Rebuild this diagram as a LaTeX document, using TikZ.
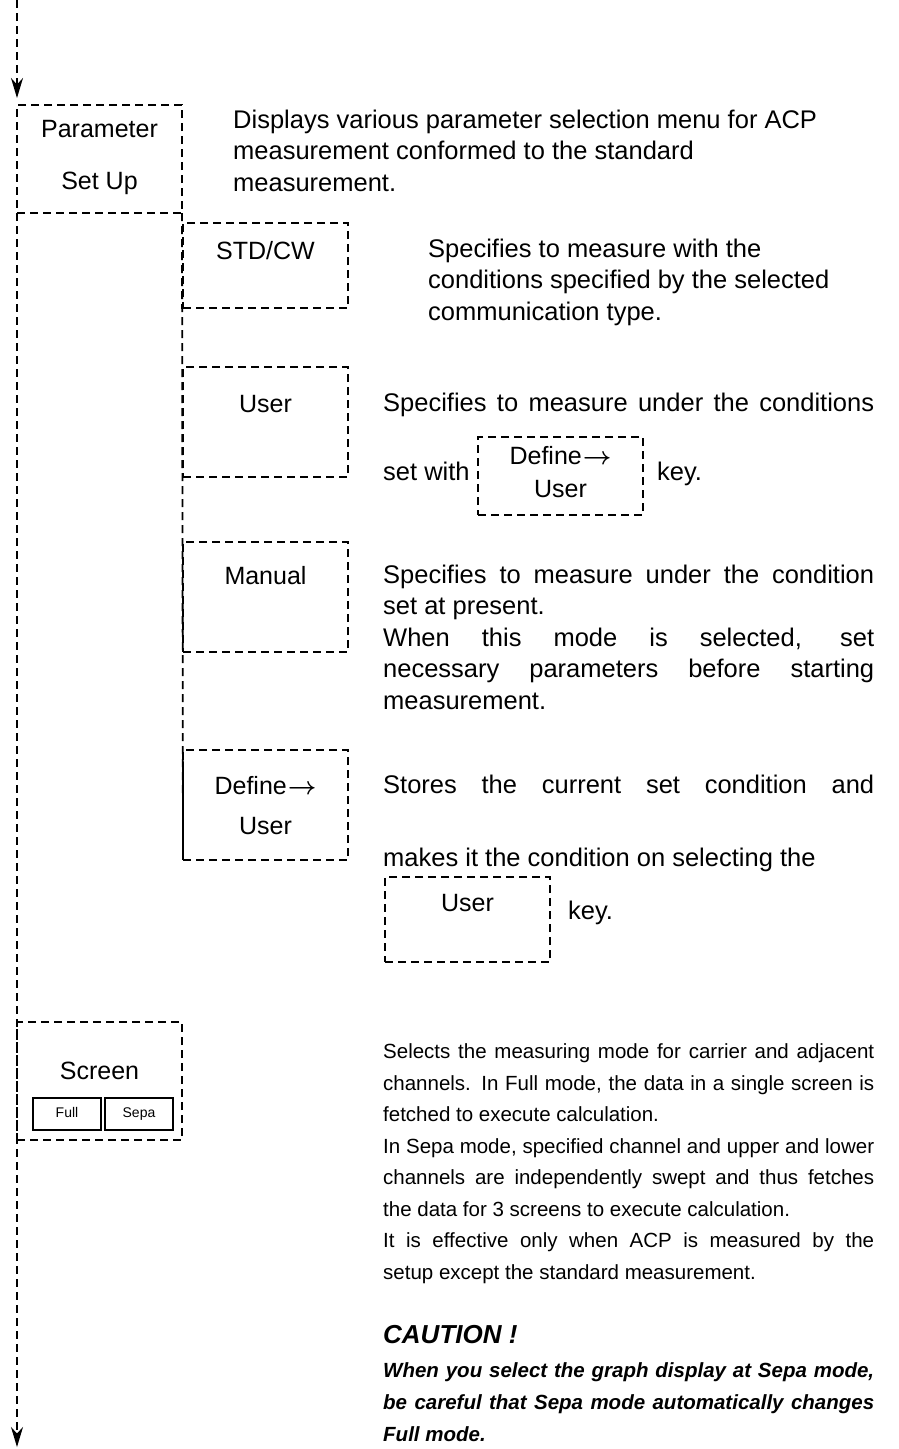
\documentclass[tikz,border=0pt]{standalone}
\usepackage{fontspec}
\setmainfont{Liberation Sans}
\usetikzlibrary{positioning,arrows.meta}
\tikzset{dl/.style={line width=1.8pt,dash pattern=on 8pt off 5pt},
  kb/.style={dl,draw,anchor=north west,minimum width=165pt,inner sep=0pt,outer sep=0pt},
  lb/.style={anchor=base,inner sep=0pt,font=\fontsize{25}{30}\selectfont},
  ds/.style={anchor=base west,inner sep=0pt,font=\fontsize{25.5}{31.5}\selectfont},
  dsm/.style={ds,font=\fontsize{20.5}{31.5}\selectfont},
  bt/.style={draw,line width=1.6pt,anchor=north west,minimum width=68pt,minimum height=32pt,inner sep=0pt,outer sep=0pt,
    text height=10pt,text depth=3pt,font=\fontsize{14}{14}\selectfont},
  ar/.style={dl,-{Stealth[length=20pt,width=12pt]}}}
\newcommand\sprd[1]{\hbox to \hsize{#1}}
\newcommand\lne[1]{\hbox{#1}}
\newcommand\blk[1]{\vtop{\hsize=491pt #1}}
\newcommand\dfn{Define\kern1pt$\boldsymbol{\rightarrow}$}
\usepackage{amsmath}
\begin{document}
\begin{tikzpicture}[x=1pt,y=-1pt]
\useasboundingbox (0,0) rectangle (898,1449);
\path (17,0) coordinate (top) (17,1447) coordinate (bot)
      (0,919) coordinate (kline);
\node[kb,minimum height=108pt] (param) at (17,105) {};
\node[kb,minimum height=85pt] (std) at (183,223) {};
\node[kb,minimum height=110pt] (user) at (183,367) {};
\node[kb,minimum height=110pt] (manual) at (183,542) {};
\node[kb,minimum height=110pt] (defuser) at (183,750) {};
\node[kb,minimum height=78pt] (setkey) at (478,437) {};
\node[kb,minimum height=85pt] (userkey) at (385,877) {};
\node[kb,minimum height=118pt] (screen) at (17,1022) {};
\draw[ar,shorten >=7pt] (top) -- (param.north west);
\draw[ar] (param.south west) -- (bot);
\draw[dl] (param.south east) -- (defuser.south west);

\foreach \nm/\bx/\dy/\tx in {tpa/param/32/Parameter,tpb/param/84/Set Up,tsc/std/36/{STD/CW},
    tus/user/45/User,tma/manual/42/Manual,tda/defuser/44/\dfn,tdb/defuser/84/User,
    tka/setkey/27/\dfn,tkb/setkey/60/User,tuk/userkey/34/User,tsn/screen/57/Screen}{
  \node[lb] (\nm) at ([yshift=-\dy pt]\bx.north) {\tx};
}
\node[bt] (full) at (33,1098) {Full};
\node[bt] (sepa) at (105,1098) {Sepa};

\node[ds] (dpar) at (233,128) {\vtop{\lne{Displays various parameter selection menu for ACP}\lne{measurement conformed to the standard}\lne{measurement.}}};
\node[ds] (dstd) at (428,257) {\vtop{\lne{Specifies to measure with the}\lne{conditions specified by the selected}\lne{communication type.}}};
\node[ds] (duser) at (383,411) {\blk{\sprd{Specifies to measure under the conditions}}};
\node[ds] (setw) at (383,480) {set with};
\node[ds,xshift=14pt] (key1) at (setkey.east |- setw.base) {key.};
\node[ds] (dman) at (383,583) {\blk{\sprd{Specifies to measure under the condition}\lne{set at present.}\sprd{When this mode is selected, set}\sprd{necessary parameters before starting}\lne{measurement.}}};
\node[ds] (ddef) at (383,793) {\blk{\sprd{Stores the current set condition and}}};
\node[ds] (dmk) at (383,866) {makes it the condition on selecting the};
\node[ds,xshift=18pt] (key2) at (userkey.east |- kline) {key.};
\node[dsm] (dscr) at (383,1058.5) {\blk{\sprd{Selects the measuring mode for carrier and adjacent}\sprd{channels. In Full mode, the data in a single screen is}\lne{fetched to execute calculation.}\sprd{In Sepa mode, specified channel and upper and lower}\sprd{channels are independently swept and thus fetches}\lne{the data for 3 screens to execute calculation.}\sprd{It is effective only when ACP is measured by the}\lne{setup except the standard measurement.}}};
\node[ds,font=\fontsize{26}{30}\selectfont\bfseries\itshape] (caut) at (383,1343) {CAUTION !};
\node[dsm,font=\fontsize{20.5}{32}\selectfont\bfseries\itshape] (dcau) at (383,1377) {\blk{\sprd{When you select the graph display at Sepa mode,}\sprd{be careful that Sepa mode automatically changes}\lne{Full mode.}}};
\end{tikzpicture}
\end{document}
